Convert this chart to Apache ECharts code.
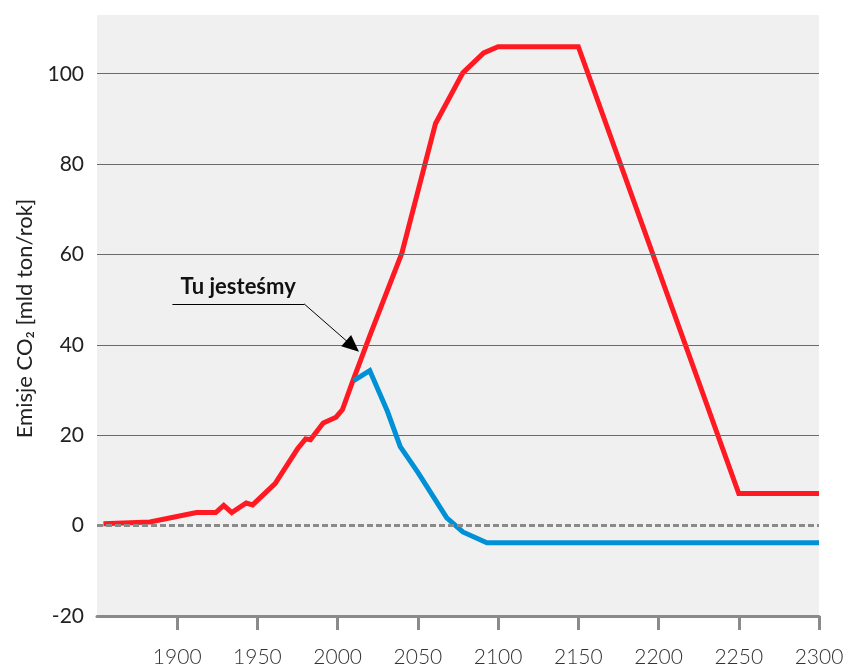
<!DOCTYPE html>
<html><head><meta charset="utf-8">
<script src="https://cdn.jsdelivr.net/npm/echarts@6/dist/echarts.min.js"></script>
<style>html,body{margin:0;padding:0;background:#fff}#c{width:845px;height:668px}</style>
</head><body><div id="c"></div>
<script>
// ---- data ----
const redYears  = [1854, 1883, 1912, 1924, 1929, 1934, 1943, 1947, 1961, 1975, 1980, 1983, 1991, 1999, 2003, 2009, 2020, 2040, 2061, 2078, 2091, 2100, 2150, 2250, 2300];
const redValues = [0.4, 0.8, 2.9, 2.9, 4.5, 2.9, 5.0, 4.6, 9.3, 17.0, 19.2, 19.0, 22.7, 24.0, 25.7, 31.6, 42.0, 60.3, 89.0, 100.2, 104.6, 106.0, 106.0, 7.1, 7.1];
const blueYears  = [2010, 2020, 2031, 2039, 2050, 2068, 2078, 2093, 2300];
const blueValues = [32.1, 34.3, 25.3, 17.5, 11.8, 1.7, -1.4, -3.8, -3.8];
const yGridValues = [20, 40, 60, 80, 100];
const zeroLineValue = [0];
const annotationText = 'Tu jesteśmy';
const annotationYears  = [1897, 1979, 2009.3];
const annotationValues = [49.1, 49.1, 39.7];
const yAxisName = 'Emisje CO₂ [mld ton/rok]';

const zip = (a, b) => a.map((v, i) => [v, b[i]]);
const redData = zip(redYears, redValues);
const blueData = zip(blueYears, blueValues);
const ann = zip(annotationYears, annotationValues);

const FONT = 'Lato, "DejaVu Sans", sans-serif';
const chart = echarts.init(document.getElementById('c'), null, {renderer: 'canvas'});
chart.setOption({
  animation: false,
  backgroundColor: '#ffffff',
  grid: {left: 97, right: 26, top: 15, bottom: 52, show: true, backgroundColor: '#f0f0f0', borderWidth: 0, outerBoundsMode: 'none'},
  xAxis: {
    type: 'value', min: 1850, max: 2300, interval: 50,
    axisLine: {show: true, onZero: false, lineStyle: {color: '#8a8a8a', width: 3}},
    axisTick: {show: true, length: 14, lineStyle: {color: '#8a8a8a', width: 3}},
    axisLabel: {showMinLabel: false, margin: 31, fontFamily: FONT, fontSize: 21, fontWeight: 300, color: '#333',
      formatter: v => String(v)},
    splitLine: {show: false}
  },
  yAxis: {
    type: 'value', min: -20, max: 113, interval: 20,
    name: yAxisName, nameLocation: 'middle', nameGap: 61, nameRotate: 90,
    nameTextStyle: {fontFamily: FONT, fontSize: 22, fontWeight: 'normal', color: '#222', padding: [0, 6, 0, 0]},
    axisLine: {show: false}, axisTick: {show: false},
    axisLabel: {showMaxLabel: false, margin: 13, fontFamily: FONT, fontSize: 21, fontWeight: 'normal', color: '#222',
      formatter: v => String(v)},
    splitLine: {show: false}
  },
  series: [
    {
      type: 'line', data: [], silent: true,
      markLine: {
        silent: true, symbol: ['none', 'none'], label: {show: false},
        data: yGridValues.map(v => ({yAxis: v, lineStyle: {color: '#6a6a6a', width: 1, type: 'solid'}}))
          .concat(zeroLineValue.map(v => ({yAxis: v, lineStyle: {color: '#8a8a8a', width: 3, type: [6, 3]}})))
      }
    },
    {
      name: 'red', type: 'line', data: redData, symbol: 'none', silent: true,
      lineStyle: {color: '#ff1a23', width: 5, join: 'miter'}
    },
    {
      name: 'blue', type: 'line', data: blueData, symbol: 'none', silent: true,
      lineStyle: {color: '#0090d6', width: 5, join: 'miter'}
    },
    {
      type: 'line', data: [], silent: true,
      markLine: {
        silent: true, symbol: ['none', 'none'],
        lineStyle: {color: '#000', width: 1, type: 'solid'},
        label: {show: false},
        data: [
          [
            {coord: ann[0], label: {show: true, position: 'insideMiddleTop', distance: 6, formatter: annotationText,
              fontFamily: FONT, fontSize: 22, fontWeight: 'bold', color: '#111'}},
            {coord: ann[1]}
          ],
          [
            {coord: ann[1], label: {show: false}},
            {coord: ann[2], symbol: 'triangle', symbolSize: [15, 17]}
          ]
        ]
      }
    }
  ]
});
</script>
</body></html>
